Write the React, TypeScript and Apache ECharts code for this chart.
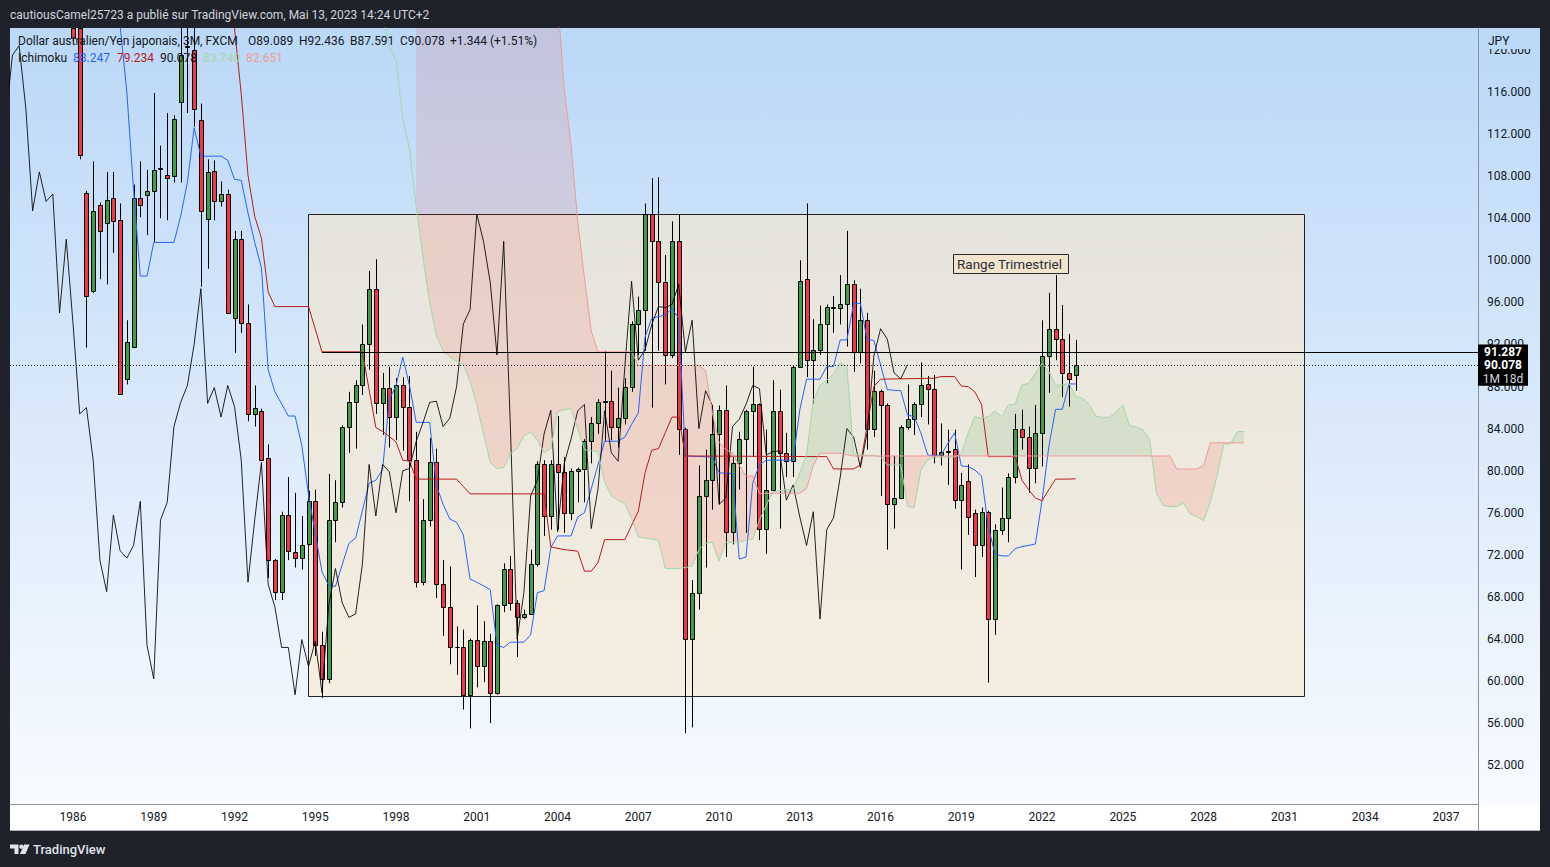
import React, { useEffect, useRef } from "react";
import * as echarts from "echarts";

// ---------------- data ----------------
const FIRST_YEAR = 1986; // bar 0 = 1986 Q1
const BARS_PER_YEAR = 4; // quarterly (3M) candles
const LAGGING_OFFSET = 25; // chikou span drawn 25 bars back

// [open, high, low, close] per quarter, 1986 Q1 .. 2023 Q2
const QUARTER_OHLC: number[][] = [
  [126.0, 128.0, 120.8, 121.1], [122.8, 124.5, 109.6, 110.0], [106.4, 106.6, 91.7, 96.6], [97.1, 109.4, 96.9, 104.7],
  [105.25, 105.5, 98.2, 102.8], [103.5, 108.4, 97.7, 105.7], [105.9, 108.4, 100.7, 103.7], [103.8, 105.4, 87.2, 87.3],
  [88.7, 94.3, 88.2, 92.2], [91.8, 107.2, 91.7, 105.95], [105.9, 109.4, 104.1, 105.25], [106.2, 108.6, 102.4, 106.6],
  [106.6, 115.9, 101.7, 108.6], [108.7, 110.9, 104.0, 108.8], [108.1, 114.0, 103.8, 107.8], [108.0, 113.8, 107.4, 113.4],
  [115.0, 124.0, 107.4, 119.5], [120.3, 124.5, 114.0, 120.4], [120.0, 122.5, 112.7, 114.4], [113.3, 114.9, 97.5, 104.7],
  [103.95, 109.6, 99.2, 108.4], [108.5, 109.5, 103.8, 105.6], [105.6, 107.5, 105.1, 106.3], [106.3, 106.7, 95.0, 95.0],
  [94.5, 102.8, 91.2, 102.0], [102.0, 102.8, 93.1, 94.0], [94.0, 95.8, 84.7, 85.4], [85.4, 88.1, 84.2, 86.0],
  [85.7, 85.9, 81.0, 81.0], [81.2, 82.5, 69.8, 71.5], [71.5, 71.6, 67.7, 68.5], [68.5, 76.1, 67.7, 75.8],
  [75.8, 79.4, 71.5, 72.4], [72.3, 77.9, 70.8, 71.7], [71.7, 75.7, 70.6, 72.9], [73.0, 78.1, 72.9, 77.1],
  [77.1, 78.2, 62.4, 63.4], [63.4, 64.7, 58.4, 60.2], [60.2, 79.7, 59.8, 75.3], [75.3, 79.1, 73.2, 77.0],
  [77.0, 84.3, 76.5, 84.2], [84.2, 87.5, 81.7, 86.5], [86.5, 88.6, 82.1, 88.1], [88.1, 93.9, 87.2, 92.0],
  [92.0, 99.0, 89.6, 97.3], [97.3, 100.1, 85.4, 86.4], [86.4, 89.3, 83.4, 87.9], [87.9, 89.9, 82.2, 85.1],
  [85.1, 88.8, 82.9, 88.1], [88.1, 88.9, 81.9, 86.1], [86.1, 89.0, 77.1, 81.0], [81.0, 83.7, 68.9, 69.4],
  [69.4, 77.3, 69.1, 75.3], [75.3, 83.1, 74.7, 80.8], [80.8, 82.1, 67.9, 69.2], [69.2, 71.5, 64.3, 67.05],
  [67.05, 70.9, 61.6, 63.2], [63.25, 65.2, 60.6, 63.2], [63.2, 64.9, 57.3, 58.7], [58.7, 64.05, 55.5, 63.95],
  [63.95, 67.2, 59.4, 61.4], [61.4, 65.7, 59.9, 63.8], [63.8, 64.5, 56.0, 58.9], [58.9, 67.3, 58.7, 67.2],
  [67.2, 71.2, 66.55, 70.7], [70.7, 71.9, 66.7, 67.45], [67.45, 67.7, 62.3, 66.05], [66.05, 66.8, 65.9, 66.4],
  [66.4, 72.5, 66.3, 71.1], [71.1, 80.9, 70.9, 80.6], [80.6, 81.0, 73.8, 75.7], [75.7, 81.0, 74.4, 80.6],
  [80.6, 85.2, 74.4, 79.9], [79.9, 81.3, 74.1, 76.0], [76.0, 80.2, 75.3, 80.0], [80.0, 80.3, 77.0, 80.2],
  [80.2, 83.0, 77.0, 82.8], [82.8, 85.1, 80.7, 84.55], [84.55, 86.8, 83.5, 86.5], [86.5, 91.4, 82.8, 86.6],
  [86.6, 89.5, 82.9, 84.2], [84.2, 87.9, 82.2, 85.0], [85.0, 88.8, 84.4, 88.0], [88.0, 94.2, 87.5, 93.95],
  [93.95, 96.55, 91.0, 95.3], [95.3, 105.4, 91.4, 104.4], [104.4, 107.8, 86.0, 101.8], [101.8, 107.9, 91.4, 97.9],
  [97.9, 100.5, 88.2, 91.0], [91.0, 103.7, 90.7, 101.8], [101.8, 104.4, 81.5, 84.0], [84.0, 84.1, 55.05, 64.0],
  [64.0, 69.6, 55.6, 68.4], [68.4, 80.5, 66.8, 77.6], [77.6, 82.0, 70.8, 79.1], [79.1, 86.2, 76.3, 83.5],
  [83.5, 86.2, 76.8, 85.75], [85.75, 88.1, 71.8, 74.2], [74.2, 81.3, 73.0, 80.7], [80.7, 83.7, 78.2, 83.0],
  [83.0, 85.8, 74.1, 85.7], [85.7, 89.9, 81.3, 86.3], [86.3, 86.4, 73.4, 74.5], [74.5, 83.9, 72.1, 78.2],
  [78.2, 88.6, 78.1, 85.7], [85.7, 87.7, 74.5, 81.7], [81.7, 83.6, 79.4, 80.9], [80.9, 90.0, 79.4, 89.9],
  [89.9, 100.0, 89.8, 98.0], [98.2, 105.4, 88.9, 90.5], [90.5, 94.4, 86.4, 91.5], [91.5, 95.7, 91.0, 93.9],
  [93.9, 95.8, 88.3, 95.6], [95.6, 96.6, 93.1, 95.5], [95.5, 98.6, 93.9, 95.8], [95.8, 102.8, 91.8, 97.7],
  [97.7, 98.1, 89.4, 91.3], [91.3, 97.3, 90.2, 94.3], [94.3, 95.0, 82.0, 84.0], [84.0, 89.5, 83.2, 87.6],
  [87.6, 87.7, 77.6, 86.2], [86.2, 86.4, 72.5, 76.8], [76.8, 81.4, 74.5, 77.4], [77.4, 84.3, 77.3, 84.2],
  [84.2, 88.2, 83.9, 84.9], [84.9, 86.5, 83.4, 86.3], [86.3, 90.3, 85.1, 88.1], [88.2, 89.0, 84.4, 87.8],
  [87.8, 89.1, 80.7, 81.5], [81.5, 84.5, 80.5, 81.8], [81.8, 83.9, 78.65, 81.9], [82.1, 83.9, 76.4, 77.2],
  [77.2, 79.8, 70.6, 78.65], [79.0, 80.6, 73.9, 75.6], [75.95, 76.3, 69.9, 72.9], [72.9, 76.5, 71.8, 76.1],
  [76.1, 76.2, 59.85, 65.9], [65.9, 74.9, 64.4, 74.4], [74.4, 78.4, 73.9, 75.5], [75.5, 79.75, 73.2, 79.4],
  [79.4, 85.4, 78.8, 84.0], [84.0, 85.8, 82.0, 83.2], [83.2, 84.2, 77.9, 80.3], [80.3, 86.25, 78.8, 83.6],
  [83.6, 94.3, 80.4, 90.9], [90.9, 96.9, 87.4, 93.5], [93.5, 98.6, 90.5, 92.5], [92.5, 95.75, 87.0, 89.3],
  [89.3, 93.0, 86.1, 88.734], [89.089, 92.436, 87.591, 90.078],
];

// Ichimoku conversion line (tenkan) [bar, value]
const TENKAN: number[][] = [
  [7, 122.3], [8, 116], [9, 106.7], [10, 98.5], [11, 98.5], [12, 101.7], [15, 101.7], [16, 104.2], [17, 107.4],
  [18, 112.6], [19, 109.9], [22, 109.9], [23, 109.5], [24, 107.7], [25, 107.6], [26, 104.5], [27, 101.7], [28, 99.3],
  [29, 89.6], [30, 87.5], [32, 85.2], [33, 85.2], [34, 82.4], [35, 77.7], [37, 70.4], [38, 69.1], [39, 69.0],
  [41, 73.1], [42, 73.6], [44, 78.8], [45, 79.1], [46, 80.1], [47, 86.75], [48, 88.1], [49, 90.8], [50, 88.1],
  [51, 84.6], [53, 84.6], [54, 78.6], [55, 76.8], [56, 75.4], [57, 75.1], [58, 73.9], [59, 69.7], [60, 69.4],
  [62, 68.7], [63, 63.4], [64, 63.2], [65, 63.7], [67, 63.7], [68, 64.4], [69, 68.4], [70, 68.6], [71, 72.7],
  [72, 73.8], [74, 73.8], [75, 75.6], [76, 76.0], [79, 82.8], [81, 82.8], [82, 83.2], [83, 84.4], [84, 85.5],
  [85, 92.7], [86, 94.5], [88, 94.8], [89, 95.4], [90, 94.5], [91, 81.4], [95, 81.3], [96, 79.8], [98, 79.7],
  [99, 71.6], [100, 71.8], [101, 78.8], [102, 80.55], [103, 81.0], [107, 81.0], [108, 85.8], [109, 88.7],
  [111, 88.7], [112, 89.9], [113, 89.9], [114, 92.43], [115, 92.43], [116, 95.9], [117, 95.9], [118, 92.43],
  [119, 92.4], [121, 87.7], [123, 87.6], [124, 85.3], [125, 85.14], [126, 83.56], [127, 81.5], [128, 81.4],
  [129, 81.5], [130, 82.6], [131, 83.6], [132, 80.45], [133, 80.39], [134, 80.07], [135, 79.5], [136, 74.68],
  [137, 72.08], [138, 71.9], [139, 71.9], [140, 72.6], [141, 72.78], [142, 72.9], [143, 73.03], [144, 77.2],
  [145, 82.3], [146, 85.84], [147, 85.84], [148, 88.247], [149, 88.247],
];

// Ichimoku base line (kijun) [bar, value]
const KIJUN: number[][] = [
  [24, 122.1], [25, 115.8], [26, 108.1], [27, 104.2], [28, 102.1], [29, 97.0], [30, 95.6], [35, 95.6], [37, 91.3],
  [43, 91.3], [45, 84.1], [46, 83.74], [48, 82.74], [49, 81.0], [50, 80.9], [51, 79.2], [57, 79.2], [59, 77.8],
  [70, 77.8], [71, 72.75], [73, 72.5], [75, 72.35], [76, 70.45], [77, 70.45], [78, 71.25], [79, 73.45], [82, 73.45],
  [83, 74.8], [84, 76.14], [85, 79.8], [86, 81.95], [87, 82.1], [88, 83.6], [89, 85.1], [90, 85.1], [91, 81.4],
  [112, 81.34], [113, 80.17], [116, 80.17], [117, 80.55], [119, 88.0], [120, 88.7], [128, 88.79], [129, 88.95],
  [131, 88.95], [132, 88.05], [133, 88.0], [134, 87.5], [135, 86.3], [136, 81.34], [140, 81.34], [141, 79.1],
  [142, 78.2], [143, 77.4], [144, 77.15], [145, 78.2], [146, 79.2], [148, 79.2], [149, 79.234],
];

// Leading span A, one value per bar from bar 45 (already displaced forward)
const SPAN_A_FIRST_BAR = 45;
const SPAN_A: number[] = [
  128, 123.5, 120.3, 119.0, 113.5, 110.6, 105.1, 100.3, 96.0, 92.8,
  91.4, 90.8, 90.4, 90.1, 88.5, 86.3, 83.5, 80.8, 80.2, 80.3,
  81.6, 82.1, 83.3, 83.7, 82.9, 81.7, 82.1, 85.6, 85.8, 85.9,
  84.0, 82.0, 81.9, 81.85, 78.9, 77.6, 77.2, 76.9, 75.45, 73.7,
  73.6, 73.5, 73.4, 70.7, 70.7, 70.7, 70.8, 70.95, 72.5, 73.1,
  73.2, 71.4, 73.2, 73.2, 73.2, 73.4, 73.5, 75.3, 76.7, 78.0,
  78.1, 78.2, 78.2, 79.8, 81.5, 86.7, 88.1, 88.6, 89.2, 90.27,
  89.9, 81.6, 81.5, 81.45, 81.45, 81.3, 80.55, 80.55, 80.55, 76.6,
  76.5, 80.1, 81.0, 81.3, 81.3, 81.3, 81.3, 81.6, 83.55, 85.14,
  84.98, 85.14, 85.68, 85.14, 86.25, 86.31, 88.14, 88.3, 89.26, 90.21,
  89.42, 88.14, 88.14, 88.3, 87.04, 86.88, 86.3, 85.14, 85.08, 85.07,
  85.6, 86.25, 84.25, 84.19, 83.87, 82.95, 77.85, 76.7, 76.58, 76.58,
  76.96, 75.89, 75.63, 75.25, 77.06, 79.5, 82.54, 82.54, 83.71, 83.74,
];

// Leading span B, one value per bar from bar 51 (values above the pane are estimates)
const SPAN_B_FIRST_BAR = 51;
const SPAN_B: number[] = [
  135, 135, 135, 135, 135, 135, 135, 135, 135, 135,
  135, 135, 135, 135, 135, 135, 135, 135, 135, 135,
  135, 125, 116.2, 111.0, 103.7, 98.3, 93.3, 91.3, 91.3, 91.3,
  91.3, 91.3, 91.3, 90.0, 90.0, 90.0, 90.0, 90.0, 90.0, 90.0,
  90.0, 90.0, 90.0, 89.5, 85.5, 82.7, 82.0, 81.7, 80.5, 79.5,
  79.5, 77.85, 77.85, 77.85, 77.85, 77.85, 77.85, 77.85, 78.3, 80.5,
  81.66, 81.66, 81.66, 81.66, 81.5, 81.4, 81.4, 81.4, 81.4, 81.4,
  81.4, 81.4, 81.4, 81.4, 81.4, 81.4, 81.4, 81.4, 81.4, 81.4,
  81.4, 81.4, 81.4, 81.4, 81.4, 81.4, 81.4, 81.4, 81.4, 81.4,
  81.4, 81.4, 81.4, 81.4, 81.4, 81.4, 81.4, 81.4, 81.4, 81.4,
  81.4, 81.4, 81.4, 81.4, 81.4, 81.4, 81.4, 81.4, 81.4, 81.4,
  81.4, 81.4, 81.4, 80.16, 80.16, 80.16, 80.16, 80.5, 82.65, 82.65,
  82.65, 82.65, 82.65, 82.651,
];

const YEAR_TICKS = [1986, 1989, 1992, 1995, 1998, 2001, 2004, 2007, 2010, 2013, 2016, 2019, 2022, 2025, 2028, 2031, 2034, 2037];
const PRICE_TICKS = [52, 56, 60, 64, 68, 72, 76, 80, 84, 88, 92, 96, 100, 104, 108, 112, 116, 120];

const RAY_PRICE = 91.287;
const RAY_FROM_BAR = 37;
const RANGE_BOX = { fromBar: 34.9, toBar: 182.9, high: 104.4, low: 58.6 };
const RANGE_LABEL = { text: "Range Trimestriel", bar: 130.76, price: 100.6 };

const HEADER_TEXT = "cautiousCamel25723 a publié sur TradingView.com, Mai 13, 2023 14:24 UTC+2";
const SYMBOL_TITLE = "Dollar australien/Yen japonais, 3M, FXCM";
const CURRENCY = "JPY";
const TIME_LEFT = "1M 18d";

// ---------------- view ----------------
const X_MIN = -9.36;
const X_MAX = 208.77;
const Y_MIN = 48.32;
const Y_MAX = 122.08;
const FONT = "Roboto, 'Noto Sans', sans-serif";
const GREEN = "#3f9e43";
const RED = "#f23645";

function clipTop(pts: number[][], yTop: number) {
  const out: number[][] = [];
  for (let i = 0; i < pts.length; i++) {
    const P = pts[i];
    const Q = pts[(i + 1) % pts.length];
    const pin = P[1] >= yTop;
    const qin = Q[1] >= yTop;
    if (pin) out.push(P);
    if (pin !== qin) {
      const t = (yTop - P[1]) / (Q[1] - P[1]);
      out.push([P[0] + t * (Q[0] - P[0]), yTop]);
    }
  }
  return out;
}

function cloudRuns() {
  const pts: number[][] = [];
  for (let i = 0; i < SPAN_B.length; i++) {
    const k = SPAN_B_FIRST_BAR + i;
    pts.push([k, SPAN_A[k - SPAN_A_FIRST_BAR], SPAN_B[i]]);
  }
  const runs: any[] = [];
  let cur: any = null;
  for (let i = 0; i < pts.length; i++) {
    const [k, a, b] = pts[i];
    const up = a >= b;
    if (!cur) {
      cur = { up, top: [[k, a]], bot: [[k, b]] };
      continue;
    }
    if (up === cur.up) {
      cur.top.push([k, a]);
      cur.bot.push([k, b]);
    } else {
      const [k0, a0, b0] = pts[i - 1];
      const d0 = a0 - b0;
      const d1 = a - b;
      const t = d0 / (d0 - d1);
      const kx = k0 + t * (k - k0);
      const vx = a0 + t * (a - a0);
      cur.top.push([kx, vx]);
      cur.bot.push([kx, vx]);
      runs.push(cur);
      cur = { up, top: [[kx, vx], [k, a]], bot: [[kx, vx], [k, b]] };
    }
  }
  if (cur) runs.push(cur);
  return runs;
}

export default function App() {
  const ref = useRef<HTMLDivElement>(null);

  useEffect(() => {
    if (!ref.current) return;
    const chart = echarts.init(ref.current, null, { renderer: "svg" });

    const candleData = QUARTER_OHLC.map((d, k) => [k, d[0], d[3], d[2], d[1]]);
    const closes = QUARTER_OHLC.map((d) => d[3]);
    const chikou = closes.map((c, k) => [k - LAGGING_OFFSET, c]);
    const spanA = SPAN_A.map((v, i) => [SPAN_A_FIRST_BAR + i, v]);
    const spanB = SPAN_B.map((v, i) => [SPAN_B_FIRST_BAR + i, v]);
    const runs = cloudRuns();
    const lastClose = closes[closes.length - 1];

    const lineSeries = (name: string, data: number[][], color: string, z: number) => ({
      type: "line",
      name,
      data,
      z,
      showSymbol: false,
      symbol: "none",
      silent: true,
      clip: true,
      lineStyle: { color, width: 1 },
      emphasis: { disabled: true },
    });

    const option: any = {
      animation: false,
      backgroundColor: "transparent",
      grid: { left: 10, top: 28, width: 1468, height: 776 },
      xAxis: {
        type: "value",
        min: X_MIN,
        max: X_MAX,
        axisLine: { show: true, onZero: false, lineStyle: { color: "#8f929b", width: 1 } },
        axisTick: { show: false },
        splitLine: { show: false },
        axisLabel: {
          customValues: YEAR_TICKS.map((y) => (y - FIRST_YEAR) * BARS_PER_YEAR),
          formatter: (v: number) => String(FIRST_YEAR + v / BARS_PER_YEAR),
          color: "#131722",
          fontSize: 12,
          fontFamily: FONT,
          margin: 7,
        },
      },
      yAxis: {
        type: "value",
        position: "right",
        min: Y_MIN,
        max: Y_MAX,
        axisLine: { show: true, onZero: false, lineStyle: { color: "#8f929b", width: 1 } },
        axisTick: { show: false },
        splitLine: { show: false },
        axisLabel: {
          customValues: PRICE_TICKS,
          formatter: (v: number) => v.toFixed(3),
          color: "#131722",
          fontSize: 12,
          fontFamily: FONT,
          margin: 9,
          align: "left",
        },
      },
      series: [
        {
          type: "custom",
          name: "range",
          coordinateSystem: "cartesian2d",
          z: 1,
          silent: true,
          data: [[100, 80]],
          renderItem: (params: any, api: any) => {
            const p1 = api.coord([RANGE_BOX.fromBar, RANGE_BOX.high]);
            const p2 = api.coord([RANGE_BOX.toBar, RANGE_BOX.low]);
            const x = Math.round(p1[0]) + 0.5;
            const y = Math.round(p1[1]) + 0.5;
            return {
              type: "rect",
              shape: { x, y, width: Math.round(p2[0] - p1[0]), height: Math.round(p2[1] - p1[1]) },
              style: { fill: "rgba(252,231,199,0.55)", stroke: "rgba(0,0,0,0.85)", lineWidth: 1 },
            };
          },
        },
        {
          type: "custom",
          name: "cloud",
          coordinateSystem: "cartesian2d",
          z: 3,
          silent: true,
          data: [[100, 80]],
          renderItem: (params: any, api: any) => {
            const cs = params.coordSys;
            const children = runs.map((r: any) => {
              const poly = r.top.concat(r.bot.slice().reverse()).map((p: number[]) => api.coord(p));
              return {
                type: "polygon",
                shape: { points: clipTop(poly, cs.y) },
                style: { fill: r.up ? "rgba(67,160,71,0.13)" : "rgba(244,67,54,0.13)" },
              };
            });
            return { type: "group", children };
          },
        },
        {
          type: "custom",
          name: "candles",
          coordinateSystem: "cartesian2d",
          z: 4,
          silent: true,
          clip: true,
          data: candleData,
          renderItem: (params: any, api: any) => {
            const cs = params.coordSys;
            const top = cs.y;
            const bottom = cs.y + cs.height;
            const cl = (y: number) => Math.max(top, Math.min(bottom, y));
            const k = api.value(0);
            const o = api.value(1);
            const c = api.value(2);
            const l = api.value(3);
            const h = api.value(4);
            const pO = api.coord([k, o]);
            const pC = api.coord([k, c]);
            const pH = api.coord([k, h]);
            const pL = api.coord([k, l]);
            const x = Math.round(pO[0]) + 0.5;
            const children: any[] = [];
            const yH = cl(pH[1]);
            const yL = cl(pL[1]);
            if (yL > yH) {
              children.push({ type: "line", shape: { x1: x, y1: yH, x2: x, y2: yL }, style: { stroke: "#000", lineWidth: 1 } });
            }
            const rawTop = Math.min(pO[1], pC[1]);
            const rawBot = Math.max(pO[1], pC[1]);
            if (rawBot >= top) {
              const bt = Math.round(cl(rawTop)) + 0.5;
              const bb = Math.max(Math.round(cl(rawBot)) + 0.5, bt);
              children.push({
                type: "rect",
                shape: { x: x - 2, y: bt, width: 4, height: bb - bt },
                style: { fill: c >= o ? GREEN : RED, stroke: "#000", lineWidth: 1 },
              });
            }
            return { type: "group", children };
          },
        },
        lineSeries("Tenkan", TENKAN, "#2962FF", 5),
        lineSeries("Kijun", KIJUN, "#B71C1C", 6),
        lineSeries("Chikou", chikou, "rgba(0,0,0,0.85)", 7),
        lineSeries("Span A", spanA, "#A5D6A7", 8),
        lineSeries("Span B", spanB, "#EF9A9A", 9),
        {
          type: "custom",
          name: "price lines",
          coordinateSystem: "cartesian2d",
          z: 12,
          silent: true,
          data: [[100, 80]],
          renderItem: (params: any, api: any) => {
            const cs = params.coordSys;
            const yLast = Math.round(api.coord([0, lastClose])[1]) + 0.5;
            const ray0 = api.coord([RAY_FROM_BAR, RAY_PRICE]);
            const yRay = Math.round(ray0[1]) + 0.5;
            return {
              type: "group",
              children: [
                {
                  type: "line",
                  shape: { x1: cs.x, y1: yLast, x2: cs.x + cs.width, y2: yLast },
                  style: { stroke: "#131722", lineWidth: 1, lineDash: [1, 2] },
                },
                {
                  type: "line",
                  shape: { x1: ray0[0], y1: yRay, x2: cs.x + cs.width, y2: yRay },
                  style: { stroke: "#000", lineWidth: 1 },
                },
              ],
            };
          },
        },
      ],
    };

    chart.setOption(option);

    const yRay = chart.convertToPixel({ yAxisIndex: 0 }, RAY_PRICE) as number;
    const yLast = chart.convertToPixel({ yAxisIndex: 0 }, lastClose) as number;
    const lbl = chart.convertToPixel({ gridIndex: 0 }, [RANGE_LABEL.bar, RANGE_LABEL.price]) as number[];

    const last = QUARTER_OHLC[QUARTER_OHLC.length - 1];
    const prev = QUARTER_OHLC[QUARTER_OHLC.length - 2];
    const change = last[3] - prev[3];
    const pct = (change / prev[3]) * 100;
    const sign = change >= 0 ? "+" : "";

    const txt = (text: string, x: number, y: number, fill: string, font = `12px ${FONT}`, extra: any = {}) => ({
      type: "text",
      z: 20,
      silent: true,
      x,
      y,
      style: { text, fill, font, verticalAlign: "middle", align: "left", ...extra },
    });

    const graphic: any[] = [
      {
        type: "rect",
        z: -10,
        silent: true,
        shape: { x: 10, y: 28, width: 1530, height: 776 },
        style: {
          fill: new echarts.graphic.LinearGradient(0, 0, 0, 1, [
            { offset: 0, color: "#bbd8f7" },
            { offset: 1, color: "#f8fbff" },
          ]),
        },
      },
      { type: "rect", z: -9, silent: true, shape: { x: 10, y: 804, width: 1530, height: 27 }, style: { fill: "#ffffff" } },
      { type: "line", z: 1, silent: true, shape: { x1: 10, y1: 830.5, x2: 1540, y2: 830.5 }, style: { stroke: "#b2b5be", lineWidth: 1 } },
      { type: "line", z: 1, silent: true, shape: { x1: 1478.5, y1: 804, x2: 1478.5, y2: 831 }, style: { stroke: "#8f929b", lineWidth: 1 } },
      { type: "rect", z: 15, silent: true, shape: { x: 1479, y: 28, width: 61, height: 21 }, style: { fill: "#bcd9f7" } },
      txt(CURRENCY, 1488, 41, "#131722"),
      // header
      txt(HEADER_TEXT, 10, 15, "#d1d4dc", `12px ${FONT}`),
      // legend line 1
      txt(SYMBOL_TITLE, 18, 41, "#131722"),
      txt("O" + last[0].toFixed(3), 248, 41, "#131722"),
      txt("H" + last[1].toFixed(3), 299, 41, "#131722"),
      txt("B" + last[2].toFixed(3), 350, 41, "#131722"),
      txt("C" + last[3].toFixed(3), 400, 41, "#131722"),
      txt(`${sign}${change.toFixed(3)} (${sign}${pct.toFixed(2)}%)`, 450, 41, "#131722"),
      // legend line 2
      txt("Ichimoku", 18, 58, "#131722"),
      txt(TENKAN[TENKAN.length - 1][1].toFixed(3), 73, 58, "#2962FF"),
      txt(KIJUN[KIJUN.length - 1][1].toFixed(3), 117, 58, "#B71C1C"),
      txt(lastClose.toFixed(3), 160, 58, "#131722"),
      txt(SPAN_A[SPAN_A.length - 1].toFixed(3), 203, 58, "#A5D6A7"),
      txt(SPAN_B[SPAN_B.length - 1].toFixed(3), 246, 58, "#EF9A9A"),
      // range label
      {
        type: "rect",
        z: 20,
        silent: true,
        shape: { x: Math.round(lbl[0]) + 0.5, y: Math.round(lbl[1]) + 0.5, width: 115, height: 19 },
        style: { fill: "#f2e4cc", stroke: "#2a2a2a", lineWidth: 1 },
      },
      txt(RANGE_LABEL.text, Math.round(lbl[0]) + 4, Math.round(lbl[1]) + 10, "#2a2e39", `13.5px ${FONT}`),
      // price boxes on axis
      { type: "rect", z: 20, silent: true, shape: { x: 1478, y: yRay - 7.5, width: 50, height: 13 }, style: { fill: "#000" } },
      txt(RAY_PRICE.toFixed(3), 1503, yRay, "#ffffff", `bold 12px ${FONT}`, { align: "center" }),
      { type: "rect", z: 20, silent: true, shape: { x: 1478, y: yLast - 8, width: 50, height: 29 }, style: { fill: "#000" } },
      txt(lastClose.toFixed(3), 1503, yLast + 0.5, "#ffffff", `bold 12px ${FONT}`, { align: "center" }),
      txt(TIME_LEFT, 1503, yLast + 14, "#d1d4dc", `12px ${FONT}`, { align: "center" }),
      // TradingView logo
      { type: "polygon", z: 20, silent: true, shape: { points: [[10, 844.5], [18.5, 844.5], [18.5, 854], [14.5, 854], [14.5, 848.5], [10, 848.5]] }, style: { fill: "#e0e3eb" } },
      { type: "circle", z: 20, silent: true, shape: { cx: 21.3, cy: 846.6, r: 2.1 }, style: { fill: "#e0e3eb" } },
      { type: "polygon", z: 20, silent: true, shape: { points: [[24, 844.5], [29.5, 844.5], [25.5, 854], [20, 854]] }, style: { fill: "#e0e3eb" } },
      txt("TradingView", 33, 849.5, "#e0e3eb", `500 13px ${FONT}`),
    ];

    chart.setOption({ graphic });

    return () => {
      chart.dispose();
    };
  }, []);

  return (
    <div
      style={{ position: "fixed", left: 0, top: 0, width: 1550, height: 867, background: "#1f222b" }}
    >
      <div ref={ref} style={{ width: 1550, height: 867 }} />
    </div>
  );
}
